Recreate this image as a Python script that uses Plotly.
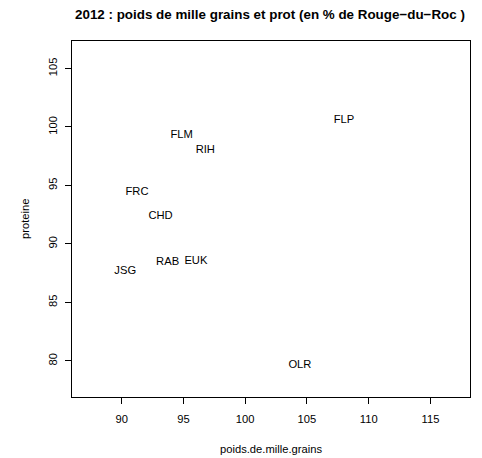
import plotly.graph_objects as go

labels = ["FLM", "RIH", "FRC", "CHD", "FLP", "JSG", "RAB", "EUK", "OLR"]
poids = [94.85, 96.77, 91.24, 93.15, 108.0, 90.29, 93.72, 96.01, 104.43]
proteine = [99.32, 98.03, 94.43, 92.40, 100.6, 87.67, 88.46, 88.55, 79.66]

x_ticks = [90, 95, 100, 105, 110, 115]
y_ticks = [80, 85, 90, 95, 100, 105]

FONT = "Liberation Sans, Arial, Helvetica, sans-serif"
BASE = 11.2

fig = go.Figure()
fig.add_trace(go.Scatter(
    x=poids, y=proteine, text=labels, mode="text",
    textposition="middle center",
    textfont=dict(family=FONT, size=BASE, color="black"),
    hoverinfo="skip", showlegend=False,
))

axis_common = dict(
    showgrid=False, zeroline=False, showline=True, linecolor="black",
    linewidth=1, mirror=True, ticks="outside", ticklen=6, tickwidth=1,
    tickcolor="black", tickfont=dict(family=FONT, size=BASE, color="black"),
)

fig.update_layout(
    width=474, height=450,
    margin=dict(l=64, r=12, t=33, b=61, pad=0),
    paper_bgcolor="white", plot_bgcolor="white",
    xaxis=dict(range=[85.98, 118.2], tickvals=x_ticks, ticklabelstandoff=6, **axis_common),
    yaxis=dict(range=[76.92, 107.35], tickvals=y_ticks, tickangle=-90, ticklabelstandoff=4, **axis_common),
    annotations=[
        dict(text="<b>2012 : poids de mille grains et prot (en % de Rouge\u2212du\u2212Roc )</b>",
             xref="paper", yref="paper", x=0.497, y=1.0758, xanchor="center", yanchor="middle",
             showarrow=False, font=dict(family=FONT, size=13.4, color="black")),
        dict(text="poids.de.mille.grains", xref="paper", yref="paper", x=0.5, y=-0.146,
             xanchor="center", yanchor="middle", showarrow=False,
             font=dict(family=FONT, size=BASE, color="black")),
        dict(text="proteine", xref="paper", yref="paper", x=-0.118, y=0.5,
             xanchor="center", yanchor="middle", showarrow=False, textangle=-90,
             font=dict(family=FONT, size=BASE, color="black")),
    ],
)

fig.write_html("out.html")
